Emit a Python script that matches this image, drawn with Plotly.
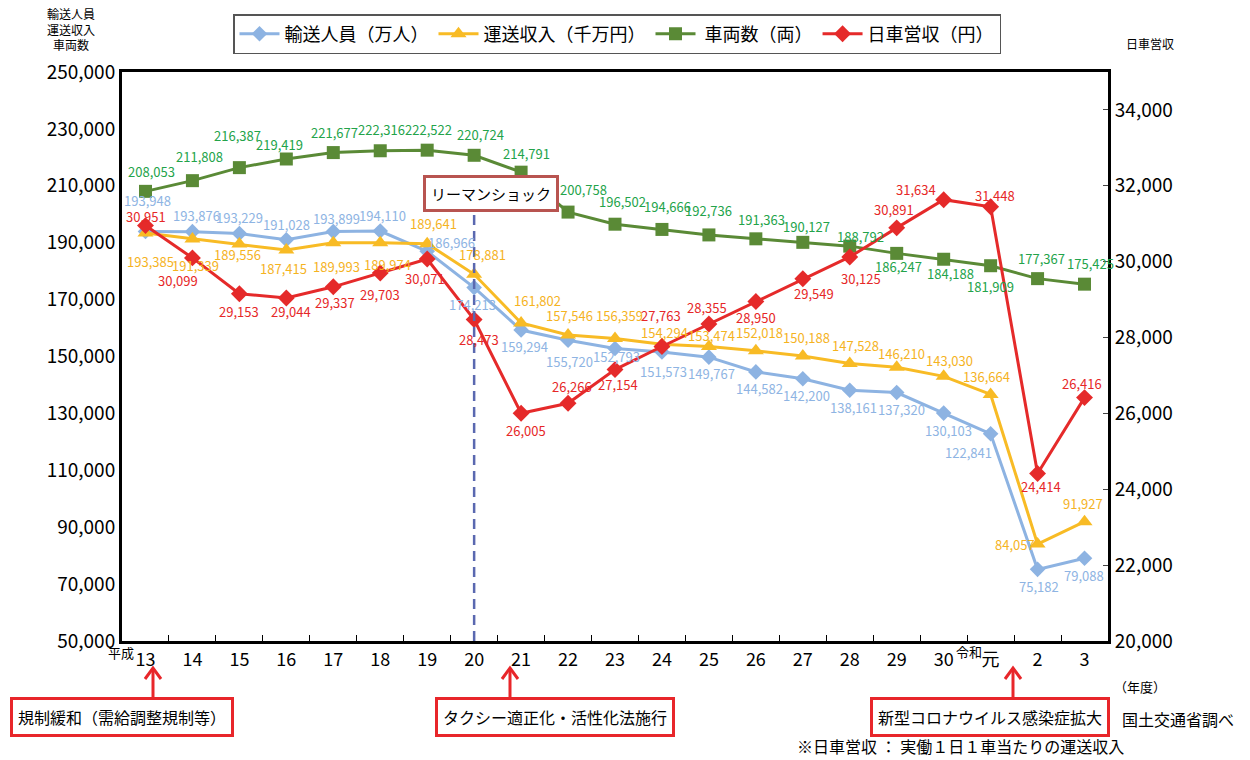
import plotly.graph_objects as go

# 年度 (平成13年度〜令和3年度)
years = ["13", "14", "15", "16", "17", "18", "19", "20", "21", "22", "23",
         "24", "25", "26", "27", "28", "29", "30", "元", "2", "3"]

# 輸送人員（万人）
passengers = [193948, 193876, 193229, 191028, 193899, 194110, 186966, 174213,
              159294, 155720, 152793, 151573, 149767, 144582, 142200, 138161,
              137320, 130103, 122841, 75182, 79088]
# 運送収入（千万円）
revenue = [193385, 191339, 189556, 187415, 189993, 189974, 189641, 178881,
           161802, 157546, 156359, 154294, 153474, 152018, 150188, 147528,
           146210, 143030, 136664, 84057, 91927]
# 車両数（両）
vehicles = [208053, 211808, 216387, 219419, 221677, 222316, 222522, 220724,
            214791, 200758, 196502, 194666, 192736, 191363, 190127, 188792,
            186247, 184188, 181909, 177367, 175425]
# 日車営収（円）
daily_rev = [30951, 30099, 29153, 29044, 29337, 29703, 30071, 28473, 26005,
             26266, 27154, 27763, 28355, 28950, 29549, 30125, 30891, 31634,
             31448, 24414, 26416]

left_ticks = list(range(50000, 250001, 20000))
right_ticks = list(range(20000, 34001, 2000))

FONT = "Noto Sans CJK JP"

# plot area in pixels
L, R, T, B = 122, 1108, 72, 641
W, H = 1250, 760


def px(x):
    return (x - L) / (R - L)


def py(y):
    return (B - y) / (B - T)


# value-label offsets from each marker (pixels, +dy = up)
off_pass = [(2, 31), (4, 16), (0, 16), (0, 15), (3, 13), (2, 16), (24, 9),
            (-2, -17), (3, -16), (1, -21), (1, -8), (2, -19), (3, -16),
            (4, -17), (4, -17), (4, -17), (5, -17), (5, -17), (-22, -19),
            (1, -17), (-1, -17)]
off_rev = [(5, -28), (3, -27), (-2, -11), (-3, -18), (3, -24), (7, -22),
           (6, 20), (8, 20), (16, 22), (1, 20), (4, 23), (3, 12), (3, 11),
           (4, 18), (4, 18), (6, 18), (5, 14), (6, 16), (-4, 18), (-23, 0),
           (-2, 18)]
off_veh = [(6, 20), (7, 24), (-2, 32), (-7, 15), (1, 20), (1, 21), (1, 21),
           (6, 21), (5, 19), (15, 23), (7, 23), (6, 23), (0, 24), (6, 19),
           (4, 16), (11, 10), (2, -13), (7, -14), (0, -21), (4, 20), (6, 21)]
off_day = [(1, 9), (-14, -23), (0, -18), (5, -14), (2, -16), (0, -22),
           (-2, -20), (5, -20), (5, -17), (4, 17), (3, -15), (-1, 31),
           (-2, 17), (0, -16), (11, -15), (11, -22), (-3, 18), (-28, 10),
           (4, 11), (3, -13), (-3, 14)]

series = [
    dict(name="輸送人員（万人）", y=passengers, axis="y", line="#8db3e2",
         label="#8eb4e3", symbol="diamond", size=12, off=off_pass),
    dict(name="運送収入（千万円）", y=revenue, axis="y", line="#f8bb25",
         label="#f5b31f", symbol="triangle-up", size=14, off=off_rev),
    dict(name=" 車両数（両）", y=vehicles, axis="y", line="#5a8a36",
         label="#23a34a", symbol="square", size=13, off=off_veh),
    dict(name="日車営収（円）", y=daily_rev, axis="y2", line="#e52a2a",
         label="#e62727", symbol="diamond", size=13, off=off_day),
]

fig = go.Figure()
annotations = []
for s in series:
    fig.add_trace(go.Scatter(
        x=years, y=s["y"], name=s["name"], yaxis=s["axis"],
        mode="lines+markers",
        line=dict(color=s["line"], width=3),
        marker=dict(symbol=s["symbol"], size=s["size"], color=s["line"]),
        cliponaxis=False,
    ))
    # value labels; a category axis positions them by index
    for i, (v, (dx, dy)) in enumerate(zip(s["y"], s["off"])):
        annotations.append(dict(
            x=i, y=v, xref="x", yref=s["axis"], text=f"{v:,}",
            showarrow=False, xshift=dx, yshift=dy,
            xanchor="center", yanchor="middle",
            font=dict(size=13, color=s["label"]),
        ))

# リーマンショック line
lehman = years.index("20")
fig.add_shape(type="line", xref="x", yref="paper", x0=lehman, x1=lehman,
              y0=0, y1=py(208),
              line=dict(color="#5a68b0", width=2.5, dash="10px,6px"))

red = "#e8262a"


def note(x, y, text, size, **kw):
    opts = dict(xanchor="center", yanchor="middle")
    opts.update(kw)
    return dict(x=px(x), y=py(y), xref="paper", yref="paper", text=text,
                showarrow=False, font=dict(size=size, color="black"), **opts)


annotations += [
    note(491, 193, "リーマンショック", 15, bgcolor="white",
         bordercolor="#b85450", borderwidth=3, borderpad=5),
    note(71, 29, "輸送人員<br>運送収入<br>車両数", 12, align="center"),
    note(1150, 43, "日車営収", 12),
    note(121, 652, "平成", 13),
    note(969, 651, "令和", 13),
    note(1140, 686, "（年度）", 13),
    note(1178, 719, "国土交通省調べ", 16),
    note(960, 746, "※日車営収 ： 実働１日１車当たりの運送収入", 16),
]

boxes = [
    (122, "規制緩和（需給調整規制等）", 153),
    (555, "タクシー適正化・活性化法施行", 510),
    (990, "新型コロナウイルス感染症拡大", 1013),
]
for cx, label, ax_x in boxes:
    annotations.append(note(cx, 717, label, 16, bgcolor="white",
                            bordercolor=red, borderwidth=3, borderpad=5))
    # arrow shaft and head pointing up at the axis
    fig.add_shape(type="line", xref="paper", yref="paper",
                  x0=px(ax_x), x1=px(ax_x), y0=py(700), y1=py(669),
                  line=dict(color=red, width=3))
    fig.add_shape(type="path", xref="paper", yref="paper",
                  path=(f"M {px(ax_x - 8)} {py(679)} L {px(ax_x)} {py(668)} "
                        f"L {px(ax_x + 8)} {py(679)}"),
                  line=dict(color=red, width=3))

fig.update_layout(
    width=W, height=H,
    margin=dict(l=L, r=W - R, t=T, b=H - B),
    paper_bgcolor="white", plot_bgcolor="white",
    font=dict(family=FONT, color="black"),
    showlegend=True,
    legend=dict(orientation="h", x=px(617), xanchor="center", y=py(14), yanchor="top",
                bordercolor="#555555", borderwidth=1.5, bgcolor="white",
                font=dict(size=18), itemwidth=40),
    xaxis=dict(type="category", showline=True, linecolor="black", linewidth=3,
               mirror=True, ticks="inside", tickson="boundaries", ticklen=6,
               tickcolor="black", tickfont=dict(size=18), showgrid=False,
               range=[-0.5, 20.5]),
    yaxis=dict(range=[50000, 250000], tickvals=left_ticks, tickformat=",d",
               showline=True, linecolor="black", linewidth=3, showgrid=False,
               zeroline=False, tickfont=dict(size=19), ticks=""),
    yaxis2=dict(range=[20000, 35000], tickvals=right_ticks, tickformat=",d",
                overlaying="y", side="right", showline=True, linecolor="black",
                linewidth=3, showgrid=False, zeroline=False, ticks="inside",
                ticklen=5, tickfont=dict(size=19)),
    annotations=annotations,
)

fig.write_html("out.html")
